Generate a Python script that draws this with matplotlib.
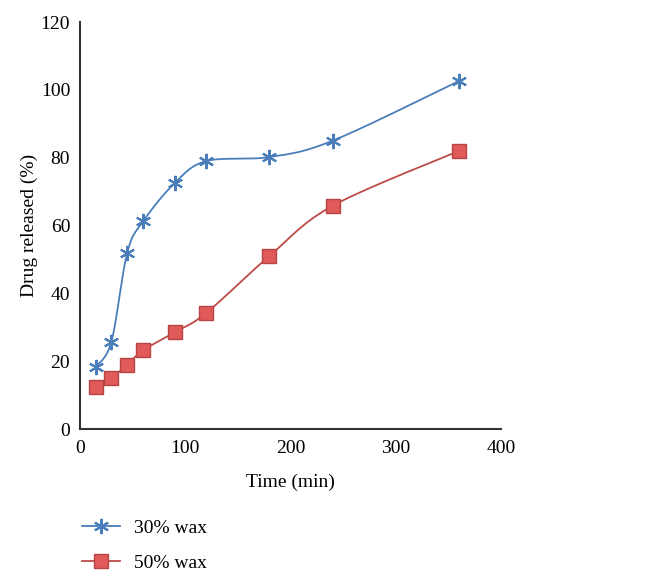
import matplotlib.pyplot as plt
import numpy as np

time_min = [15, 30, 45, 60, 90, 120, 180, 240, 360]
wax30 = [18.3, 25.8, 52.0, 61.2, 72.5, 79.0, 80.2, 85.0, 102.6]
wax50 = [12.5, 15.0, 19.0, 23.2, 28.5, 34.2, 51.0, 65.8, 82.0]
labels = ['30% wax', '50% wax']

XLIM = (0, 400)
YLIM = (0, 120)


def smooth(x, y, n=30):
    # excel-like bezier smoothing, done in normalised axis units
    sx = (XLIM[1] - XLIM[0]) * 0.64
    sy = (YLIM[1] - YLIM[0]) * 0.70
    p = np.column_stack([np.asarray(x) / sx, np.asarray(y) / sy])
    out = []
    for i in range(len(p) - 1):
        p0 = p[i - 1] if i > 0 else p[i]
        p1, p2 = p[i], p[i + 1]
        p3 = p[i + 2] if i + 2 < len(p) else p[i + 1]
        c1 = p1 + (p2 - p0) / 6
        c2 = p2 - (p3 - p1) / 6
        t = np.linspace(0, 1, n)[:, None]
        seg = ((1 - t) ** 3 * p1 + 3 * (1 - t) ** 2 * t * c1
               + 3 * (1 - t) * t ** 2 * c2 + t ** 3 * p2)
        out.append(seg if i == 0 else seg[1:])
    out = np.vstack(out)
    return out[:, 0] * sx, out[:, 1] * sy


plt.rcParams['font.family'] = ['Liberation Serif', 'DejaVu Serif']
fig = plt.figure(figsize=(6.6, 5.81), dpi=100)
ax = fig.add_axes([0.121, 0.2616, 0.638, 0.7004])

blue = '#4a7ebb'
red = '#be4b48'
star = (6, 2, 0)

xs, ys = smooth(time_min, wax30)
ax.plot(xs, ys, color=blue, lw=1.3)
ax.plot(time_min, wax30, ls='none', marker=star, ms=11, mec=blue, mew=1.5)

xs, ys = smooth(time_min, wax50)
ax.plot(xs, ys, color=red, lw=1.3)
ax.plot(time_min, wax50, ls='none', marker='s', ms=10, mfc='#e05a5a', mec='#b84444', mew=1.0)

ax.set_xlim(*XLIM)
ax.set_ylim(*YLIM)
ax.set_xticks(np.arange(0, 401, 100))
ax.set_yticks(np.arange(0, 121, 20))
for s in ['top', 'right']:
    ax.spines[s].set_visible(False)
for s in ['left', 'bottom']:
    ax.spines[s].set_linewidth(1.5)
    ax.spines[s].set_color('#333333')
ax.tick_params(length=0, labelsize=14)
ax.tick_params(axis='x', pad=8)
ax.tick_params(axis='y', pad=7)
ax.set_xlabel('Time (min)', fontsize=14, labelpad=12)
ax.set_ylabel('Drug released (%)', fontsize=14, labelpad=2)

# legend below the plot
h1, = ax.plot([], [], color=blue, lw=1.3, marker=star, ms=11, mew=1.5)
h2, = ax.plot([], [], color=red, lw=1.3, marker='s', ms=10, mfc='#e05a5a', mec='#b84444')
fig.legend([h1, h2], labels, loc='upper left', bbox_to_anchor=(0.098, 0.136),
           frameon=False, fontsize=14, handlelength=1.95, labelspacing=0.9,
           handletextpad=0.7)

fig.savefig('out.png', dpi=100)
